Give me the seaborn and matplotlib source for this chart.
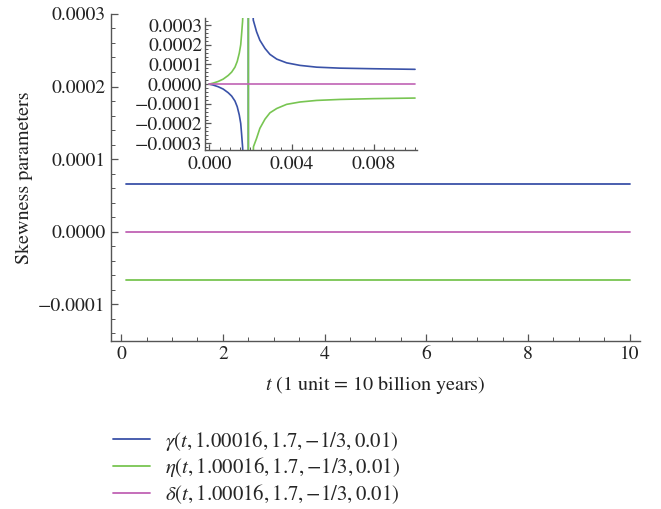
#!/usr/bin/env python3
"""Skewness parameters vs cosmic time, with an inset of the early-time blow-up."""

import matplotlib
matplotlib.use("Agg")
import matplotlib.pyplot as plt
import matplotlib.ticker as mticker
from matplotlib.lines import Line2D
import numpy as np
import pandas as pd
import seaborn as sns

# main panel: the three parameters are flat over 0.1 .. 10
t_main = [0.1, 2.0, 4.0, 6.0, 8.0, 10.0]
gamma_main = [6.6e-5, 6.6e-5, 6.6e-5, 6.6e-5, 6.6e-5, 6.6e-5]
eta_main = [-6.6e-5, -6.6e-5, -6.6e-5, -6.6e-5, -6.6e-5, -6.6e-5]
delta_main = [0.0, 0.0, 0.0, 0.0, 0.0, 0.0]

# inset: values (pole near t = 0.0019)
t_gamma_in = [0.0, 0.000195, 0.000437, 0.00068, 0.000923, 0.00109, 0.00125, 0.00136,
              0.00146, 0.00153, 0.00157, 0.00162, 0.0017, 0.0019,
              0.0019, 0.0021, 0.00214, 0.0023, 0.00246, 0.00271, 0.00295, 0.00328,
              0.00376, 0.00441, 0.00522, 0.00635, 0.00797, 0.0100]
gamma_in = [0.0, -5.1e-6, -1.35e-5, -2.54e-5, -4.4e-5, -6.1e-5, -8.6e-5, -1.15e-4,
            -1.57e-4, -2.0e-4, -2.5e-4, -3.18e-4, -5.0e-4, -1.0e-2,
            1.0e-2, 5.0e-4, 3.25e-4, 2.66e-4, 2.23e-4, 1.81e-4, 1.51e-4, 1.27e-4,
            1.08e-4, 9.5e-5, 8.6e-5, 8.1e-5, 7.8e-5, 7.5e-5]
t_eta_in = [0.0, 0.000195, 0.000437, 0.00068, 0.000923, 0.00109, 0.00125, 0.00136,
            0.00146, 0.00153, 0.00157, 0.00162, 0.0017, 0.0019,
            0.0019, 0.0021, 0.00215, 0.0023, 0.00246, 0.00271, 0.00295, 0.00328,
            0.00376, 0.00441, 0.00522, 0.00635, 0.00797, 0.0100]
eta_in = [0.0, 5.1e-6, 1.35e-5, 2.54e-5, 4.4e-5, 6.1e-5, 8.6e-5, 1.15e-4,
          1.57e-4, 2.0e-4, 2.5e-4, 3.18e-4, 5.0e-4, 1.0e-2,
          -1.0e-2, -5.0e-4, -3.18e-4, -2.76e-4, -2.25e-4, -1.78e-4, -1.46e-4, -1.24e-4,
          -1.03e-4, -9.1e-5, -8.3e-5, -7.8e-5, -7.4e-5, -7.1e-5]
t_delta_in = [0.0, 0.005, 0.0100]
delta_in = [0.0, 0.0, 0.0]

labels = [
    r"$\gamma(t, 1.00016, 1.7, {-}1/3, 0.01)$",
    r"$\eta(t, 1.00016, 1.7, {-}1/3, 0.01)$",
    r"$\delta(t, 1.00016, 1.7, {-}1/3, 0.01)$",
]
colors = ["#3a52a8", "#78c552", "#c062b4"]

sns.set_theme(style="ticks")
plt.rcParams["font.family"] = ["STIXGeneral", "DejaVu Serif"]
plt.rcParams["mathtext.fontset"] = "stix"
plt.rcParams["axes.unicode_minus"] = True

FS = 14
SPINE = "#555555"


def fmt(decimals):
    def _f(v, _pos):
        s = f"{v:.{decimals}f}"
        if float(s) == 0:
            s = f"{0:.{decimals}f}"
        return s.replace("-", "\u2212")
    return mticker.FuncFormatter(_f)


def style_axes(ax):
    for side in ("top", "right"):
        ax.spines[side].set_visible(False)
    for side in ("left", "bottom"):
        ax.spines[side].set_color(SPINE)
        ax.spines[side].set_linewidth(1.0)
    ax.tick_params(which="major", direction="in", length=5, width=0.9, color=SPINE,
                   labelsize=FS, labelcolor="#222222", pad=4)
    ax.tick_params(which="minor", direction="in", length=3, width=0.7, color=SPINE)


fig = plt.figure(figsize=(6.61, 5.09), dpi=100)

# ---- main axes
ax = fig.add_axes([0.168, 0.3307, 0.800, 0.642])
main_df = pd.DataFrame({
    "t": t_main * 3,
    "value": gamma_main + eta_main + delta_main,
    "series": [labels[0]] * len(t_main) + [labels[1]] * len(t_main) + [labels[2]] * len(t_main),
})
sns.lineplot(data=main_df, x="t", y="value", hue="series", palette=colors,
             hue_order=labels, estimator=None, sort=False, linewidth=1.3,
             legend=False, ax=ax)
ax.set_xlim(-0.2, 10.2)
ax.set_ylim(-0.00015, 0.0003)
ax.xaxis.set_major_locator(mticker.MultipleLocator(2))
ax.xaxis.set_minor_locator(mticker.MultipleLocator(0.5))
ax.yaxis.set_major_locator(mticker.MultipleLocator(0.0001))
ax.yaxis.set_minor_locator(mticker.MultipleLocator(0.00002))
ax.yaxis.set_major_formatter(fmt(4))
ax.xaxis.set_major_formatter(mticker.FuncFormatter(lambda v, p: f"{v:.0f}"))
style_axes(ax)
ax.set_xlabel(r"$t$ (1 unit = 10 billion years)", fontsize=FS + 0.5, color="#222222", labelpad=8)
ax.set_ylabel("Skewness parameters", fontsize=FS + 0.5, color="#222222", labelpad=4)

handles = [Line2D([0], [0], color=c, lw=1.3) for c in colors]
fig.legend(handles, labels, loc="upper left", bbox_to_anchor=(0.158, 0.174),
           frameon=False, fontsize=15, handlelength=1.8, handletextpad=0.7,
           labelspacing=0.13, borderaxespad=0)

# ---- inset axes
ins = fig.add_axes([0.310, 0.7053, 0.321, 0.259])
in_df = pd.DataFrame({
    "t": t_gamma_in + t_eta_in + t_delta_in,
    "value": gamma_in + eta_in + delta_in,
    "series": [labels[0]] * len(t_gamma_in) + [labels[1]] * len(t_eta_in) + [labels[2]] * len(t_delta_in),
})
sns.lineplot(data=in_df, x="t", y="value", hue="series", palette=colors,
             hue_order=labels, estimator=None, sort=False, linewidth=1.2,
             legend=False, ax=ins)
ins.set_xlim(-0.00021, 0.0101)
ins.set_ylim(-0.000335, 0.000335)
ins.xaxis.set_major_locator(mticker.MultipleLocator(0.004))
ins.xaxis.set_minor_locator(mticker.MultipleLocator(0.0005))
ins.yaxis.set_major_locator(mticker.MultipleLocator(0.0001))
ins.yaxis.set_minor_locator(mticker.MultipleLocator(0.00002))
ins.yaxis.set_major_formatter(fmt(4))
ins.xaxis.set_major_formatter(fmt(3))
style_axes(ins)
ins.tick_params(which="major", length=4)
ins.tick_params(which="minor", length=2)
ins.tick_params(axis="y", pad=2, labelsize=FS)
ins.set_xlabel("")
ins.set_ylabel("")
ins.patch.set_alpha(0)

fig.savefig("out.png", dpi=100)
